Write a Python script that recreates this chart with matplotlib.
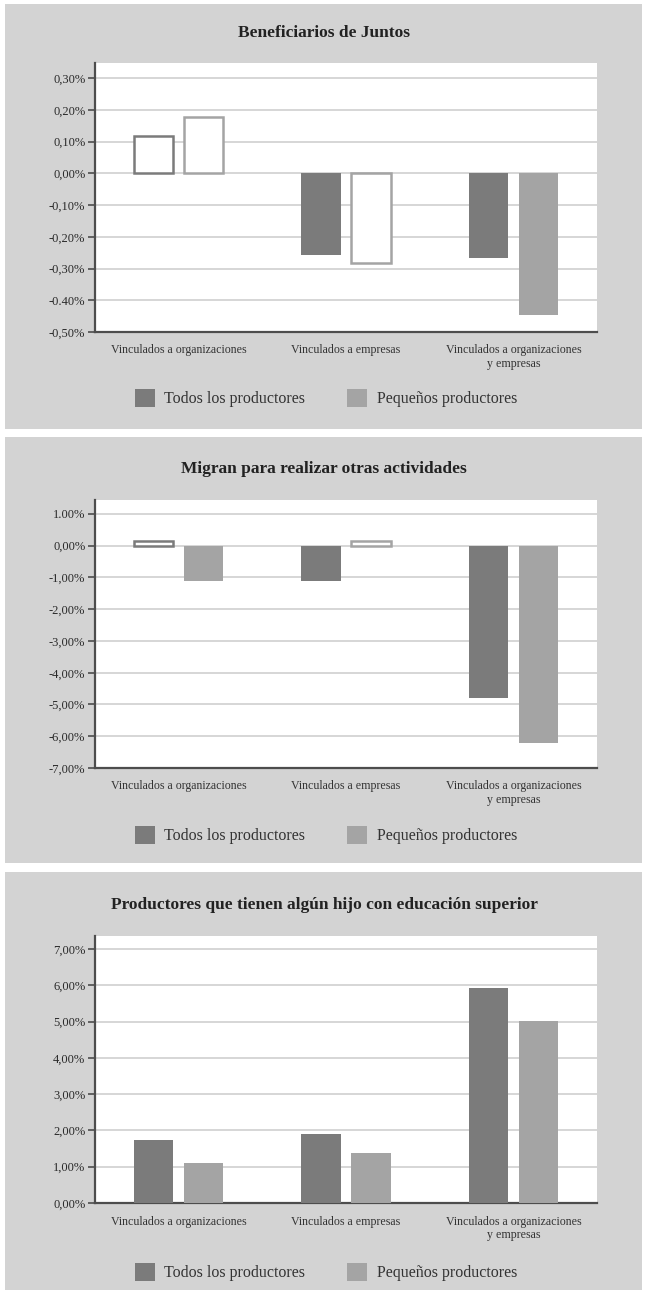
import matplotlib
matplotlib.use("Agg")
import matplotlib.pyplot as plt
from matplotlib.patches import Rectangle, Patch
import numpy as np

plt.rcParams['font.family'] = ['Liberation Serif', 'DejaVu Serif']

categories = ["Vinculados a organizaciones", "Vinculados a empresas",
              "Vinculados a organizaciones\ny empresas"]
series_names = ["Todos los productores", "Pequeños productores"]

titles = ["Beneficiarios de Juntos",
          "Migran para realizar otras actividades",
          "Productores que tienen algún hijo con educación superior"]

# values in percent
juntos_todos = [0.119, -0.258, -0.267]
juntos_peq = [0.179, -0.281, -0.445]
migran_todos = [0.147, -1.10, -4.78]
migran_peq = [-1.10, 0.15, -6.21]
hijo_todos = [1.73, 1.90, 5.94]
hijo_peq = [1.10, 1.38, 5.02]

# filled (True) or hollow (False) bars
juntos_todos_fill = [False, True, True]
juntos_peq_fill = [False, False, True]
migran_todos_fill = [False, True, True]
migran_peq_fill = [True, False, True]
hijo_todos_fill = [True, True, True]
hijo_peq_fill = [True, True, True]

juntos_ticks = [0.3, 0.2, 0.1, 0.0, -0.1, -0.2, -0.3, -0.4, -0.5]
juntos_ticklabels = ["0,30%", "0,20%", "0,10%", "0,00%", "-0,10%", "-0,20%",
                     "-0,30%", "-0.40%", "-0,50%"]
migran_ticks = [1, 0, -1, -2, -3, -4, -5, -6, -7]
migran_ticklabels = ["1.00%", "0,00%", "-1,00%", "-2,00%", "-3,00%", "-4,00%",
                     "-5,00%", "-6,00%", "-7,00%"]
hijo_ticks = [0, 1, 2, 3, 4, 5, 6, 7]
hijo_ticklabels = ["0,00%", "1,00%", "2,00%", "3,00%", "4,00%", "5,00%",
                   "6,00%", "7,00%"]

BG = "#d3d3d3"
C_TODOS = "#7b7b7b"
C_PEQ = "#a4a4a4"
GRID = "#d3d3d3"
SPINE = "#4d4d4d"

W, H = 648, 1293
fig = plt.figure(figsize=(W / 100, H / 100), dpi=100)
fig.patch.set_facecolor("white")

def fy(px):
    return 1 - px / H

# pixel layout of each panel: grey top/bottom, axes top/bottom, title y, legend y
panels = [
    dict(g=(4, 429), ax=(63, 332), title=33, leg=398, ylim=(-0.5, 0.348),
         data=(juntos_todos, juntos_peq), fill=(juntos_todos_fill, juntos_peq_fill),
         ticks=juntos_ticks, labels=juntos_ticklabels),
    dict(g=(437, 863), ax=(500, 768), title=469, leg=835, ylim=(-7, 1.44),
         data=(migran_todos, migran_peq), fill=(migran_todos_fill, migran_peq_fill),
         ticks=migran_ticks, labels=migran_ticklabels),
    dict(g=(872, 1290), ax=(936, 1203), title=905, leg=1272, ylim=(0, 7.36),
         data=(hijo_todos, hijo_peq), fill=(hijo_todos_fill, hijo_peq_fill),
         ticks=hijo_ticks, labels=hijo_ticklabels),
]

x = np.arange(len(categories))
bw = 0.235
offs = [-0.15, 0.15]
colors = [C_TODOS, C_PEQ]

for i, p in enumerate(panels):
    g0, g1 = p["g"]
    fig.patches.append(Rectangle((5 / W, fy(g1)), 637 / W, (g1 - g0) / H,
                                 transform=fig.transFigure, facecolor=BG,
                                 edgecolor="none", zorder=-10))
    a0, a1 = p["ax"]
    ax = fig.add_axes([95 / W, fy(a1), 502 / W, (a1 - a0) / H])
    ax.set_zorder(5)
    ax.set_facecolor("white")
    ax.set_xlim(-0.5, 2.5)
    ax.set_ylim(*p["ylim"])
    ax.set_yticks(p["ticks"])
    ax.set_yticklabels(p["labels"])
    ax.yaxis.grid(True, color=GRID, linewidth=1.3)
    ax.set_axisbelow(True)
    for s in ["top", "right"]:
        ax.spines[s].set_visible(False)
    for s in ["left", "bottom"]:
        ax.spines[s].set_color(SPINE)
        ax.spines[s].set_linewidth(1.6)
    ax.tick_params(axis="y", length=5, width=1.2, color=SPINE, labelsize=9,
                   labelcolor="#2a2a2a", pad=2)
    ax.set_xticks(x)
    ax.set_xticklabels(categories, fontsize=8.6, color="#333333", linespacing=1.15)
    ax.tick_params(axis="x", length=0, pad=9)

    for k in range(2):
        vals = p["data"][k]
        fills = p["fill"][k]
        for j in range(len(vals)):
            if fills[j]:
                ax.bar(x[j] + offs[k], vals[j], bw, color=colors[k],
                       edgecolor="none", zorder=3)
            else:
                ax.bar(x[j] + offs[k], vals[j], bw, color="white",
                       edgecolor=colors[k], linewidth=1.8, zorder=3)

    fig.text(0.5, fy(p["title"]), titles[i], ha="center", va="center",
             fontsize=12.5, fontweight="bold", color="#222222")

    handles = [Patch(facecolor=C_TODOS, edgecolor="none"),
               Patch(facecolor=C_PEQ, edgecolor="none")]
    fig.legend(handles, series_names, loc="center", ncol=2, frameon=False,
               bbox_to_anchor=(0.503, fy(p["leg"])), fontsize=11.5,
               handlelength=1.25, handleheight=1.4, handletextpad=0.6,
               columnspacing=2.6, labelcolor="#333333")

fig.savefig("out.png", dpi=100, facecolor="white")
